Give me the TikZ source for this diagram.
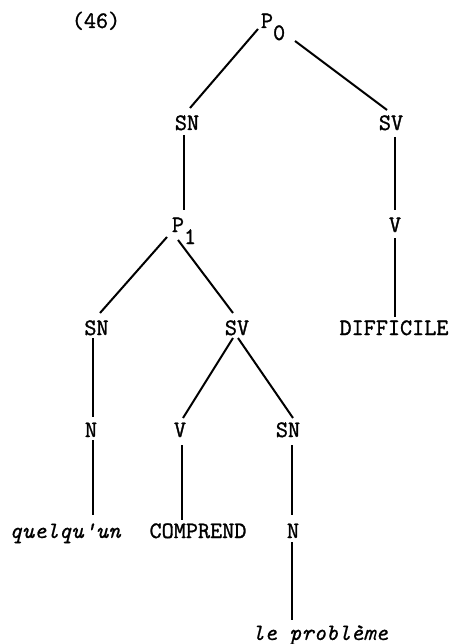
\documentclass[tikz,border=0pt]{standalone}
\usepackage{fontspec}
\usetikzlibrary{calc}
\newfontfamily\twfont[FakeBold=1.3]{Latin Modern Mono}
\newfontfamily\twitfont[FakeBold=0.5]{Latin Modern Mono}
\tikzset{
  lab/.style={anchor=base, inner sep=0pt, font=\fontsize{23.5}{28}\selectfont\twfont},
  itlab/.style={lab, font=\fontsize{23.5}{28}\selectfont\twitfont\itshape},
  edge/.style={line width=2pt, black}
}
\newcommand{\subidx}[1]{\rlap{\smash{\raisebox{-12pt}{#1}}}}
\begin{document}
\begin{tikzpicture}[x=1pt, y=-1pt]
\useasboundingbox (0,0) rectangle (455,644);
% nodes (base anchor at measured positions)
\node[lab] (ex)   at (96,28)   {(46)};
\node[lab] (P0)   at (267,28)  {P\subidx{0}};
\node[lab] (SNa)  at (187,130) {SN};
\node[lab] (SVa)  at (391,130) {SV};
\node[lab] (P1)   at (178,232) {P\subidx{1}};
\node[lab] (Va)   at (395,232) {V};
\node[lab] (SNb)  at (96.5,335){SN};
\node[lab] (SVb)  at (237,335) {SV};
\node[lab] (DIFF) at (394,335) {DIFFICILE};
\node[lab] (Nb)   at (91,437)  {N};
\node[lab] (Vb)   at (180,437) {V};
\node[lab] (SNc)  at (288,437) {SN};
\node[itlab] (quel) at (65,538) {quelqu'un};
\node[lab] (COMP) at (198,538) {COMPREND};
\node[lab] (Nc)   at (293,538) {N};
\node[itlab] (prob) at (320,640) {le problème};
% connectors
\draw[edge] ($(P0.base)+(-9,1)$)    -- ($(SNa.base)+(3,-22)$);
\draw[edge] ($(P0.base)+(28,13)$)   -- ($(SVa.base)+(-4,-20)$);
\draw[edge] ($(SNa.base)+(-3.5,5)$) -- ($(P1.base)+(5.5,-22)$);
\draw[edge] ($(SVa.base)+(4,7)$)    -- ($(Va.base)+(0,-22)$);
\draw[edge] ($(Va.base)+(0,6)$)     -- ($(DIFF.base)+(1,-18)$);
\draw[edge] ($(P1.base)+(-11,5)$)   -- ($(SNb.base)+(3.5,-22)$);
\draw[edge] ($(P1.base)+(0,8)$)     -- ($(SVb.base)+(-4,-22)$);
\draw[edge] ($(SNb.base)+(-3.5,3)$) -- ($(Nb.base)+(2,-20)$);
\draw[edge] ($(SVb.base)+(-4,3)$)   -- ($(Vb.base)+(3,-19)$);
\draw[edge] ($(SVb.base)+(1,3)$)    -- ($(SNc.base)+(5,-19)$);
\draw[edge] ($(Nb.base)+(2,3)$)     -- ($(quel.base)+(28,-23)$);
\draw[edge] ($(Vb.base)+(2,8)$)     -- ($(COMP.base)+(-16,-18)$);
\draw[edge] ($(SNc.base)+(4,8)$)    -- ($(Nc.base)+(-1,-23)$);
\draw[edge] ($(Nc.base)+(-1,4)$)    -- ($(prob.base)+(-28,-20)$);
\end{tikzpicture}
\end{document}
